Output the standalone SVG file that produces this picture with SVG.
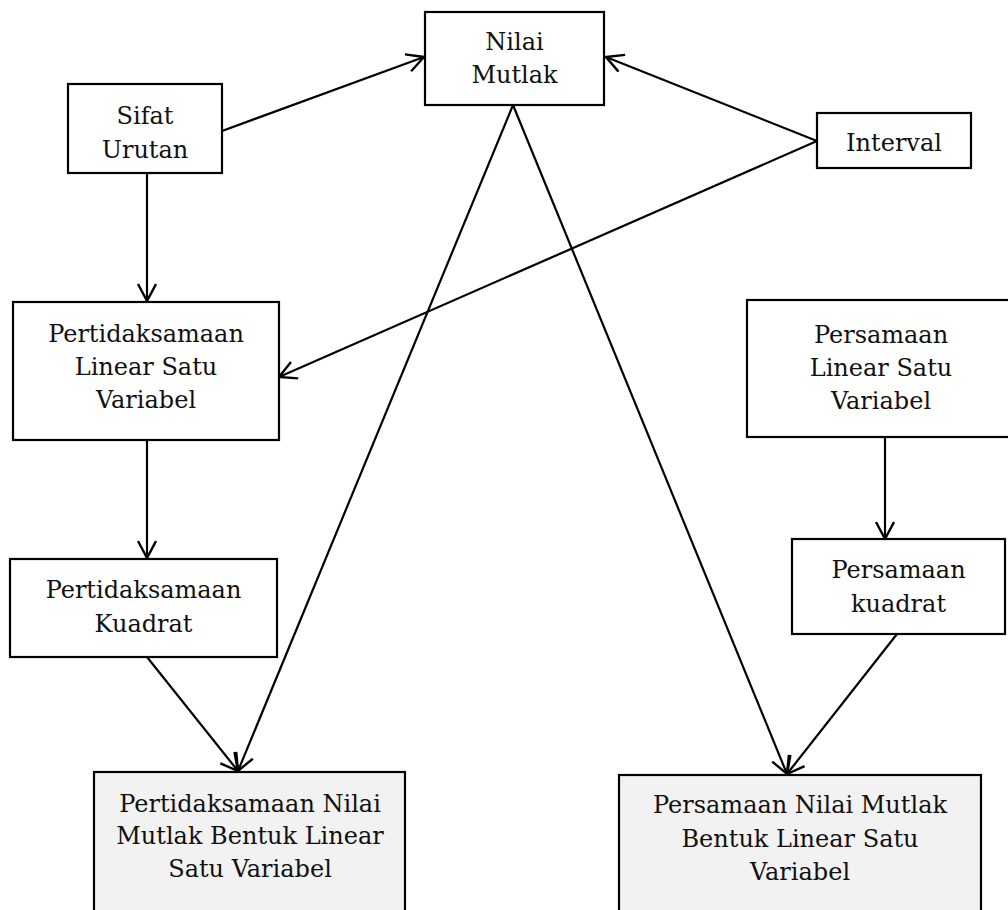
<svg xmlns="http://www.w3.org/2000/svg" width="1008" height="910" viewBox="0 0 1008 910">
<defs>
<style>
.box{fill:#fff;stroke:#000;stroke-width:2.2}
.box2{fill:#f2f2f2;stroke:#000;stroke-width:2.2}
.t{font-family:"DejaVu Serif","Liberation Serif",serif;font-size:24px;fill:#111;text-anchor:middle}
.c{fill:none;stroke:#000;stroke-width:2.2;marker-end:url(#arr)}
</style>
<marker id="arr" markerUnits="userSpaceOnUse" markerWidth="24" markerHeight="24" refX="18" refY="10" orient="auto">
<path d="M1,1 L18,10 L1,19" fill="none" stroke="#000" stroke-width="2.4"/>
</marker>
</defs>
<rect width="1008" height="910" fill="#fff"/>
<g id="connectors">
<line class="c" x1="222" y1="131" x2="424" y2="57"/>
<line class="c" x1="817" y1="141" x2="606" y2="57"/>
<line class="c" x1="817" y1="141" x2="279" y2="377"/>
<line class="c" x1="147" y1="173" x2="147" y2="301"/>
<line class="c" x1="147" y1="440" x2="147" y2="558"/>
<line class="c" x1="147" y1="657" x2="238" y2="771"/>
<line class="c" x1="513" y1="105" x2="238" y2="771"/>
<line class="c" x1="513" y1="105" x2="787" y2="774"/>
<line class="c" x1="885" y1="437" x2="885" y2="539"/>
<line class="c" x1="897" y1="634" x2="787" y2="774"/>
</g>
<g id="nilai-mutlak">
<rect class="box" x="425" y="12" width="179" height="93"/>
<text class="t" x="514.5" y="50">Nilai</text>
<text class="t" x="514.5" y="83">Mutlak</text>
</g>
<g id="sifat-urutan">
<rect class="box" x="68" y="84" width="154" height="89"/>
<text class="t" x="145" y="124">Sifat</text>
<text class="t" x="145" y="158">Urutan</text>
</g>
<g id="interval">
<rect class="box" x="817" y="113" width="154" height="55"/>
<text class="t" x="894" y="151">Interval</text>
</g>
<g id="pert-linear">
<rect class="box" x="13" y="302" width="266" height="138"/>
<text class="t" x="146" y="342">Pertidaksamaan</text>
<text class="t" x="146" y="375">Linear Satu</text>
<text class="t" x="146" y="408">Variabel</text>
</g>
<g id="pers-linear">
<rect class="box" x="747" y="300" width="270" height="137"/>
<text class="t" x="881" y="343">Persamaan</text>
<text class="t" x="881" y="376">Linear Satu</text>
<text class="t" x="881" y="409">Variabel</text>
</g>
<g id="pert-kuadrat">
<rect class="box" x="10" y="559" width="267" height="98"/>
<text class="t" x="143.5" y="598">Pertidaksamaan</text>
<text class="t" x="143.5" y="632">Kuadrat</text>
</g>
<g id="pers-kuadrat">
<rect class="box" x="792" y="539" width="213" height="95"/>
<text class="t" x="898.5" y="578">Persamaan</text>
<text class="t" x="898.5" y="612">kuadrat</text>
</g>
<g id="pert-nilai-mutlak">
<rect class="box2" x="94" y="772" width="311" height="150"/>
<text class="t" x="250" y="812">Pertidaksamaan Nilai</text>
<text class="t" x="250" y="844">Mutlak Bentuk Linear</text>
<text class="t" x="250" y="877">Satu Variabel</text>
</g>
<g id="pers-nilai-mutlak">
<rect class="box2" x="619" y="775" width="362" height="150"/>
<text class="t" x="800" y="813">Persamaan Nilai Mutlak</text>
<text class="t" x="800" y="847">Bentuk Linear Satu</text>
<text class="t" x="800" y="880">Variabel</text>
</g>
</svg>
